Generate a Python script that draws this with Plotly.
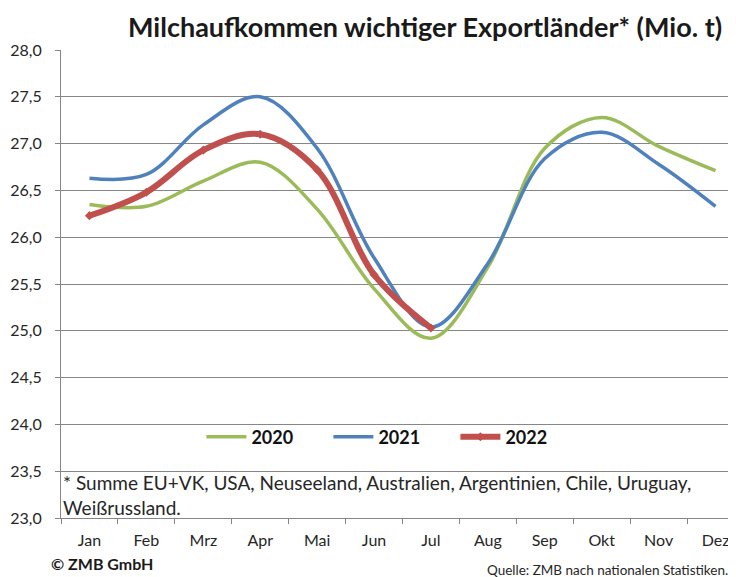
import plotly.graph_objects as go

# Monate (x-Achse)
monate = ["Jan", "Feb", "Mrz", "Apr", "Mai", "Jun", "Jul", "Aug", "Sep", "Okt", "Nov", "Dez"]

# Milchaufkommen in Mio. t
werte_2020 = [26.35, 26.33, 26.60, 26.80, 26.30, 25.45, 24.92, 25.68, 26.95, 27.28, 26.97, 26.71]
werte_2021 = [26.63, 26.67, 27.20, 27.50, 26.95, 25.78, 25.04, 25.72, 26.84, 27.12, 26.78, 26.33]
werte_2022 = [26.23, 26.48, 26.93, 27.10, 26.72, 25.60, 25.03]

y_ticks = [23.0 + 0.5 * i for i in range(11)]

FONT = "Lato"
TXT = "#262626"

fig = go.Figure()

fig.add_trace(go.Scatter(x=monate, y=werte_2020, name="<b>2020</b>", mode="lines",
                         line=dict(color="#9BBB59", width=3.5, shape="spline", smoothing=1)))
fig.add_trace(go.Scatter(x=monate, y=werte_2021, name="<b>2021</b>", mode="lines",
                         line=dict(color="#4F81BD", width=3.5, shape="spline", smoothing=1)))
fig.add_trace(go.Scatter(x=monate[:len(werte_2022)], y=werte_2022, name="<b>2022</b>", mode="lines+markers",
                         line=dict(color="#C0504D", width=6, shape="spline", smoothing=1),
                         marker=dict(symbol="diamond", size=7, color="#C0504D")))

# die Seite hat 8px Rand, daher 728x569 statt 736x577
fig.update_layout(
    width=728, height=569,
    margin=dict(l=53, r=0, t=42, b=59),
    paper_bgcolor="white", plot_bgcolor="white",
    separators=",.",
    font=dict(family=FONT, size=16, color=TXT),
    showlegend=True,
    legend=dict(orientation="h", x=0.208, y=0.173, xanchor="left", yanchor="middle",
                font=dict(size=18, color="#111111", family=FONT),
                bgcolor="rgba(0,0,0,0)", itemwidth=40, entrywidth=72, entrywidthmode="pixels"),
)

fig.update_xaxes(
    type="category", range=[-0.5, 11.36], automargin=False,
    showgrid=False, showline=True, linecolor="#868686", linewidth=1,
    ticks="outside", tickson="boundaries", ticklen=5, tickcolor="#868686",
    ticklabelstandoff=8, tickfont=dict(size=16, color=TXT),
)
fig.update_yaxes(
    range=[23.0, 28.0], tickvals=y_ticks, tickformat=".1f", automargin=False,
    showgrid=True, gridcolor="#868686", gridwidth=1,
    showline=True, linecolor="#868686", linewidth=1,
    ticks="outside", ticklen=5, tickcolor="#868686",
    ticklabelstandoff=10, tickfont=dict(size=16, color=TXT), zeroline=False,
)

# Titel
fig.add_annotation(text="<b>Milchaufkommen wichtiger Exportländer* (Mio. t)</b>",
                   xref="paper", yref="paper", x=1, y=1, xanchor="right", yanchor="middle",
                   xshift=-13, yshift=24, showarrow=False, borderpad=0,
                   font=dict(size=27, color="#1a1a1a", family=FONT))

# Fussnote im Diagramm
fig.add_annotation(text="* Summe EU+VK, USA, Neuseeland, Australien, Argentinien, Chile, Uruguay,<br>Weißrussland.",
                   xref="paper", yref="paper", x=0, y=0.05, xanchor="left", yanchor="middle",
                   xshift=0, align="left", showarrow=False,
                   font=dict(size=19, color=TXT, family=FONT))

fig.add_annotation(text="<b>© ZMB GmbH</b>", xref="paper", yref="paper", x=0, y=0,
                   xanchor="left", yanchor="middle", xshift=-12, yshift=-45, showarrow=False,
                   font=dict(size=16, color="#1a1a1a", family=FONT))
fig.add_annotation(text="Quelle: ZMB nach nationalen Statistiken.", xref="paper", yref="paper",
                   x=1, y=0, xanchor="right", yanchor="middle", xshift=-6, yshift=-52, showarrow=False,
                   font=dict(size=13.5, color=TXT, family=FONT))

fig.write_html("out.html")
